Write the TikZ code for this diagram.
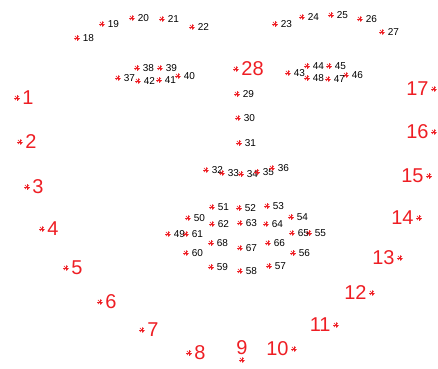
\documentclass[tikz,border=0pt]{standalone}
\usepackage{fontspec}
\setmainfont{Liberation Sans}
\definecolor{ptred}{RGB}{238,30,36}
\begin{document}
\begin{tikzpicture}[x=1pt,y=-1pt,
  pt/.style={circle,inner sep=0pt,minimum size=6pt,
    path picture={\foreach \a in {0,45,...,315}
      \draw[ptred,line width=.55pt] (path picture bounding box.center) -- ++(\a:3pt);}},
  sm/.style={font=\fontsize{10}{12}\selectfont,text=black,inner sep=2.5pt},
  big/.style={font=\fontsize{20}{24}\selectfont,text=ptred,inner sep=2pt}]
  \useasboundingbox (0,0) rectangle (438,368);

  % Kontur (rechts beschriftet)
  \foreach \n/\x/\y in {1/17/98, 2/20/142, 3/27/187, 4/42/229, 5/66/268,
      6/100/302, 7/142/330, 8/189/353, 28/236/69}
    \node[pt,label={[big]right:\n}] (p\n) at (\x,\y) {};

  % Kontur (links beschriftet)
  \foreach \n/\x/\y in {10/294/349, 11/336/325, 12/372/293, 13/400/258,
      14/419/218, 15/429/176, 16/434/132, 17/434/89}
    \node[pt,label={[big]left:\n}] (p\n) at (\x,\y) {};

  % Kinn
  \node[pt,label={[big]above:9}] (p9) at (242,360) {};

  % Augenbrauen, Nase, Augen, Mund
  \foreach \n/\x/\y in {18/77/38, 19/102/24, 20/132/18, 21/162/19, 22/192/27,
      23/275/24, 24/302/17, 25/331/15, 26/360/19, 27/382/32,
      29/237/94, 30/238/118, 31/239/143, 32/206/170, 33/222/173,
      34/241/174, 35/257/172, 36/272/168,
      37/118/78, 38/137/68, 39/160/68, 40/178/76, 41/159/80, 42/138/81,
      43/288/73, 44/307/66, 45/329/66, 46/346/75, 47/328/79, 48/307/78,
      49/168/234, 50/188/218, 51/212/207, 52/239/208, 53/267/206,
      54/291/217, 55/309/233, 56/293/253, 57/269/266, 58/240/271,
      59/211/267, 60/186/253,
      61/186/234, 62/212/224, 63/240/223, 64/266/224, 65/292/233,
      66/268/243, 67/240/248, 68/211/243}
    \node[pt,label={[sm]right:\n}] (p\n) at (\x,\y) {};
\end{tikzpicture}
\end{document}
